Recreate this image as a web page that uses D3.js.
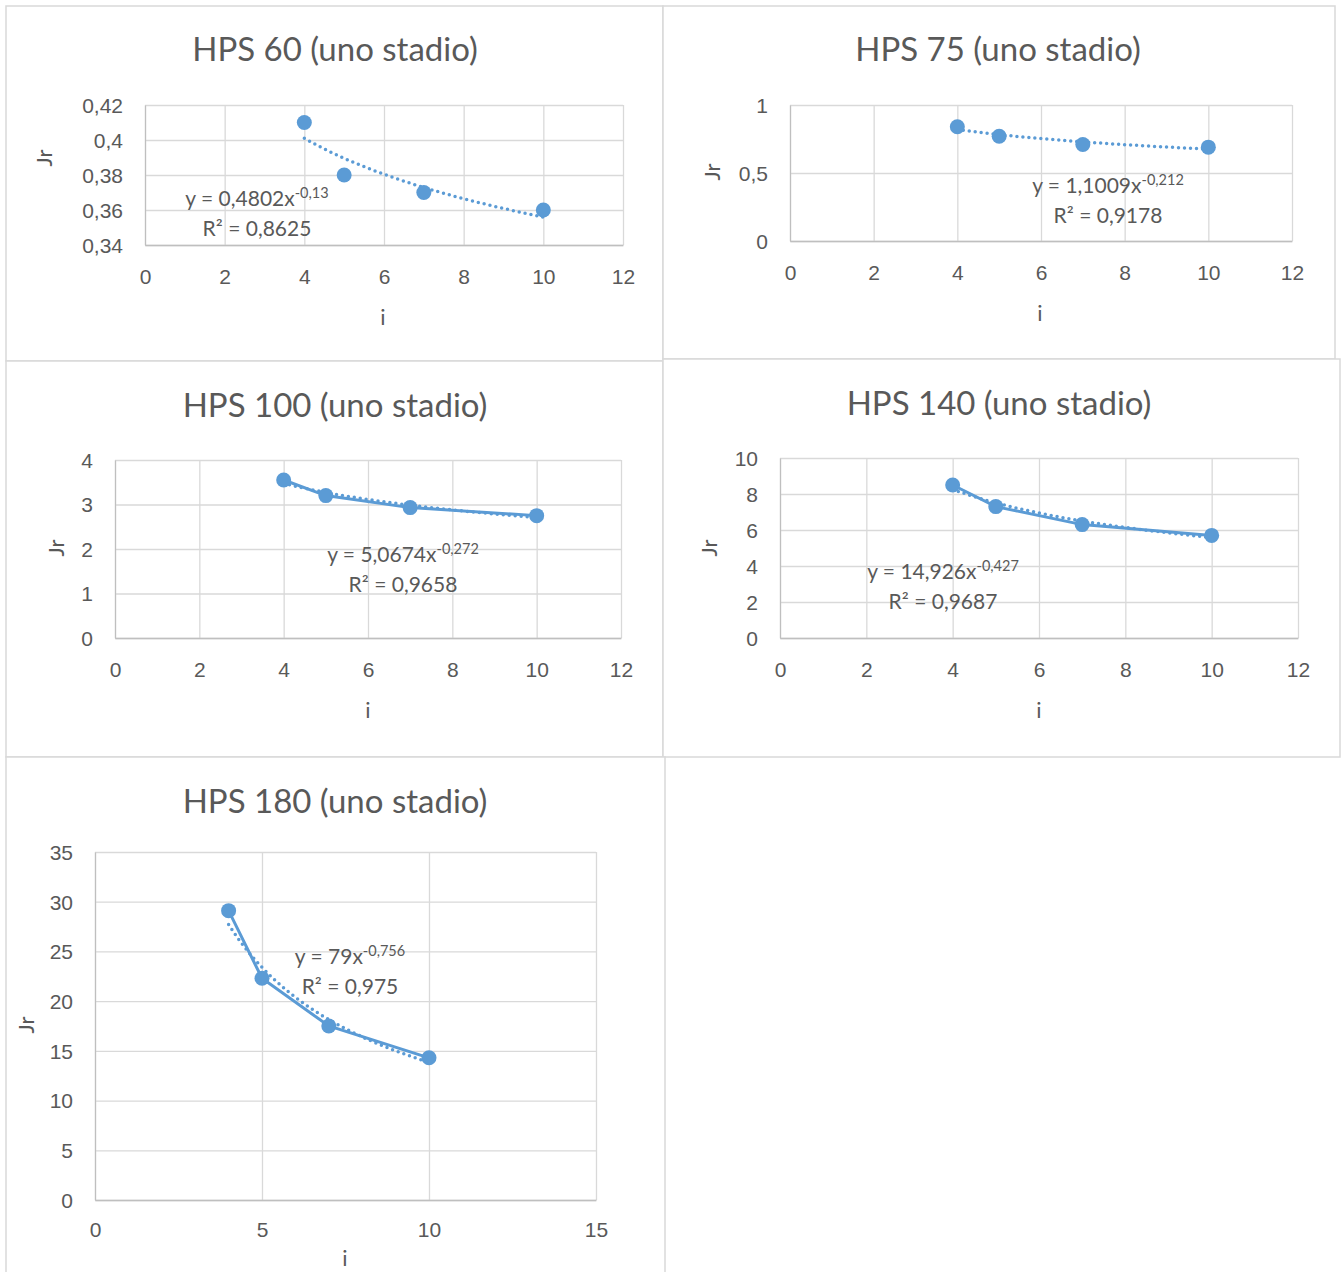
<!DOCTYPE html>
<html>
<head>
<meta charset="utf-8">
<script src="https://cdn.jsdelivr.net/npm/d3@7"></script>
<style>
  body { margin: 0; background: #fff; }
  svg { display: block; font-family: Lato, "Open Sans", sans-serif; }
  .grid line { stroke: #d9d9d9; stroke-width: 1.3; }
  .tick text { fill: #595959; font-size: 21px; }
</style>
</head>
<body>
<svg width="1343" height="1272"></svg>
<script>
// values (Jr vs i, one stage)
var iValues = [4, 5, 7, 10];

var titles = ["HPS 60 (uno stadio)", "HPS 75 (uno stadio)", "HPS 100 (uno stadio)",
              "HPS 140 (uno stadio)", "HPS 180 (uno stadio)"];

var jr60  = [0.41, 0.38, 0.37, 0.36];
var jr75  = [0.84, 0.77, 0.71, 0.69];
var jr100 = [3.55, 3.20, 2.93, 2.75];
var jr140 = [8.5, 7.3, 6.3, 5.7];
var jr180 = [29.1, 22.3, 17.5, 14.3];

// power trendlines y = a * x^b (from the chart labels)
var trendA = [0.4802, 1.1009, 5.0674, 14.926, 79];
var trendB = [-0.13, -0.212, -0.272, -0.427, -0.756];
var trendEq = ["y = 0,4802x", "y = 1,1009x", "y = 5,0674x", "y = 14,926x", "y = 79x"];
var trendExp = ["-0,13", "-0,212", "-0,272", "-0,427", "-0,756"];
var trendR2 = ["R² = 0,8625", "R² = 0,9178", "R² = 0,9658", "R² = 0,9687", "R² = 0,975"];

// tick values
var xTicks12 = [0, 2, 4, 6, 8, 10, 12];
var xTicks15 = [0, 5, 10, 15];
var yTicks60  = [0.34, 0.36, 0.38, 0.40, 0.42];
var yTicks75  = [0, 0.5, 1];
var yTicks100 = [0, 1, 2, 3, 4];
var yTicks140 = [0, 2, 4, 6, 8, 10];
var yTicks180 = [0, 5, 10, 15, 20, 25, 30, 35];

var blue = "#5b9bd5";
var grey = "#595959";

var it = d3.formatLocale({decimal: ",", thousands: ".", grouping: [3], currency: ["", "€"]});
var fmt = it.format("~r");

// panel layout
var panels = [
  {box: [6, 6, 657, 355],    plot: [145, 105, 623, 245], title: [335, 61],  xl: [383, 325], yl: [52, 158],  eq: [257, 206],  line: false,
   data: jr60, xt: xTicks12, yt: yTicks60},
  {box: [663, 6, 672, 353],  plot: [790, 105, 1292, 241], title: [998, 61], xl: [1040, 321], yl: [720, 172], eq: [1108, 193], line: false,
   data: jr75, xt: xTicks12, yt: yTicks75},
  {box: [6, 361, 657, 396],  plot: [115, 460, 621, 638], title: [335, 417], xl: [368, 718], yl: [64, 548],  eq: [403, 562],  line: true,
   data: jr100, xt: xTicks12, yt: yTicks100},
  {box: [663, 359, 677, 398], plot: [780, 458, 1298, 638], title: [999, 415], xl: [1039, 718], yl: [717, 548], eq: [943, 579], line: true,
   data: jr140, xt: xTicks12, yt: yTicks140},
  {box: [6, 757, 659, 530],  plot: [95, 852, 596, 1200], title: [335, 813], xl: [345, 1266], yl: [34, 1025], eq: [350, 964], line: true,
   data: jr180, xt: xTicks15, yt: yTicks180}
];

var svg = d3.select("svg");

panels.forEach(function(p, k) {

  var g = svg.append("g");

  g.append("rect")
    .attr("x", p.box[0]).attr("y", p.box[1])
    .attr("width", p.box[2]).attr("height", p.box[3])
    .attr("fill", "#fff")
    .attr("stroke", "#d9d9d9")
    .attr("stroke-width", 1.5);

  var x = d3.scaleLinear()
    .domain(d3.extent(p.xt))
    .range([p.plot[0], p.plot[2]]);
  var y = d3.scaleLinear()
    .domain(d3.extent(p.yt))
    .range([p.plot[3], p.plot[1]]);

  // gridlines
  g.append("g").attr("class", "grid")
    .attr("transform", "translate(0," + p.plot[3] + ")")
    .call(d3.axisBottom(x).tickValues(p.xt).tickSize(-(p.plot[3] - p.plot[1])).tickFormat(""))
    .call(function(s) { s.select(".domain").remove(); });
  g.append("g").attr("class", "grid")
    .attr("transform", "translate(" + p.plot[0] + ",0)")
    .call(d3.axisLeft(y).tickValues(p.yt).tickSize(-(p.plot[2] - p.plot[0])).tickFormat(""))
    .call(function(s) { s.select(".domain").remove(); });

  // axes (labels only, excel style)
  var xa = g.append("g")
    .attr("transform", "translate(0," + p.plot[3] + ")")
    .call(d3.axisBottom(x).tickValues(p.xt).tickSize(0).tickPadding(p.plot[3] > 1000 ? 22 : 24).tickFormat(fmt));
  xa.select(".domain").attr("stroke", "#bfbfbf").attr("stroke-width", 1.5);

  var ya = g.append("g")
    .attr("transform", "translate(" + p.plot[0] + ",0)")
    .call(d3.axisLeft(y).tickValues(p.yt).tickSize(0).tickPadding(22).tickFormat(fmt));
  ya.select(".domain").attr("stroke", "#bfbfbf").attr("stroke-width", 1.2);
  ya.selectAll(".tick text").attr("dy", "0.35em");

  // titles
  g.append("text")
    .attr("x", p.title[0]).attr("y", p.title[1])
    .attr("text-anchor", "middle")
    .attr("fill", grey)
    .style("font-size", "33px")
    .text(titles[k]);

  g.append("text")
    .attr("x", p.xl[0]).attr("y", p.xl[1])
    .attr("text-anchor", "middle")
    .attr("fill", grey)
    .style("font-size", "22px")
    .text("i");

  g.append("text")
    .attr("transform", "translate(" + p.yl[0] + "," + p.yl[1] + ") rotate(-90)")
    .attr("text-anchor", "middle")
    .attr("fill", grey)
    .style("font-size", "22px")
    .text("Jr");

  // series line
  if (p.line) {
    g.append("path")
      .datum(p.data)
      .attr("fill", "none")
      .attr("stroke", blue)
      .attr("stroke-width", 3)
      .attr("d", d3.line()
        .x(function(d, i) { return x(iValues[i]); })
        .y(function(d) { return y(d); }));
  }

  // trendline
  var xs = d3.range(iValues[0], iValues[iValues.length - 1] + 0.001, 0.05);
  g.append("path")
    .datum(xs)
    .attr("fill", "none")
    .attr("stroke", blue)
    .attr("stroke-width", 3.5)
    .attr("stroke-linecap", "round")
    .attr("stroke-dasharray", "0,6")
    .attr("d", d3.line()
      .x(function(d) { return x(d); })
      .y(function(d) { return y(trendA[k] * Math.pow(d, trendB[k])); }));

  // markers
  g.selectAll("circle.pt")
    .data(p.data)
    .enter()
    .append("circle")
    .attr("class", "pt")
    .attr("cx", function(d, i) { return x(iValues[i]); })
    .attr("cy", function(d) { return y(d); })
    .attr("r", 7.5)
    .attr("fill", blue);

  // equation + R2
  var eq = g.append("text")
    .attr("x", p.eq[0]).attr("y", p.eq[1])
    .attr("text-anchor", "middle")
    .attr("fill", grey)
    .style("font-size", "21px");
  eq.append("tspan").text(trendEq[k]);
  eq.append("tspan").attr("dy", -8).style("font-size", "14.5px").text(trendExp[k]);

  g.append("text")
    .attr("x", p.eq[0]).attr("y", p.eq[1] + 30)
    .attr("text-anchor", "middle")
    .attr("fill", grey)
    .style("font-size", "21px")
    .text(trendR2[k]);
});
</script>
</body>
</html>
